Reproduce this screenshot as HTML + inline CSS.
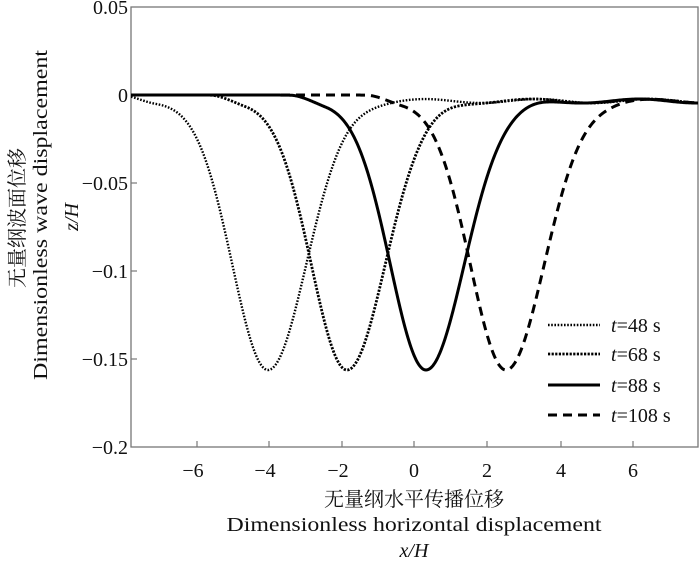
<!DOCTYPE html>
<html><head><meta charset="utf-8">
<style>
html,body{margin:0;padding:0;background:#fff;}
svg{display:block;}
text{font-family:"Liberation Serif","Noto Serif CJK SC",serif;fill:#111;}
.cjk{font-family:"Liberation Serif","Noto Serif CJK SC","Noto Sans CJK SC",serif;}
</style></head>
<body>
<svg id="s" width="700" height="561" viewBox="0 0 700 561" xmlns="http://www.w3.org/2000/svg">
<defs><clipPath id="c"><rect x="131" y="7" width="567" height="440"/></clipPath></defs>
<rect x="131" y="7" width="567" height="440" fill="none" stroke="#777" stroke-width="1.3"/>
<g stroke="#777" stroke-width="1.2">
<line x1="197" y1="447" x2="197" y2="441"/><line x1="269" y1="447" x2="269" y2="441"/>
<line x1="342" y1="447" x2="342" y2="441"/><line x1="414" y1="447" x2="414" y2="441"/>
<line x1="487" y1="447" x2="487" y2="441"/><line x1="561" y1="447" x2="561" y2="441"/>
<line x1="633" y1="447" x2="633" y2="441"/>
<line x1="131" y1="95" x2="137" y2="95"/><line x1="131" y1="183" x2="137" y2="183"/>
<line x1="131" y1="271" x2="137" y2="271"/><line x1="131" y1="359" x2="137" y2="359"/>
</g>
<g font-size="20" text-anchor="end">
<text x="128" y="14">0.05</text>
<text x="128" y="102">0</text>
<text x="128" y="190">−0.05</text>
<text x="128" y="278">−0.1</text>
<text x="128" y="366">−0.15</text>
<text x="128" y="454">−0.2</text>
</g>
<g font-size="20" text-anchor="middle">
<text x="193" y="477">−6</text><text x="265" y="477">−4</text><text x="338" y="477">−2</text>
<text x="414" y="477">0</text><text x="487" y="477">2</text><text x="561" y="477">4</text><text x="633" y="477">6</text>
</g>
<text class="cjk" x="414" y="506" font-size="20" text-anchor="middle">无量纲水平传播位移</text>
<text x="414" y="531" font-size="20" text-anchor="middle" textLength="375" lengthAdjust="spacingAndGlyphs">Dimensionless horizontal displacement</text>
<text x="414" y="557" font-size="20" text-anchor="middle" font-style="italic">x/H</text>
<g transform="translate(24,218) rotate(-90)"><text class="cjk" x="0" y="0" font-size="20" text-anchor="middle">无量纲波面位移</text></g>
<g transform="translate(47,215) rotate(-90)"><text x="0" y="0" font-size="20" text-anchor="middle" textLength="330" lengthAdjust="spacingAndGlyphs">Dimensionless wave displacement</text></g>
<g transform="translate(78,217) rotate(-90)"><text x="0" y="0" font-size="20" text-anchor="middle" font-style="italic">z/H</text></g>
<g id="curves" clip-path="url(#c)" fill="none" stroke="#000"></g>
<g stroke="#000" fill="none">
<line x1="548" y1="325" x2="600" y2="325" stroke-width="2.4" stroke-dasharray="1.6,1.6"/>
<line x1="548" y1="354" x2="600" y2="354" stroke-width="2.8" stroke-dasharray="2.2,1.4"/>
<line x1="548" y1="385" x2="600" y2="385" stroke-width="3"/>
<line x1="548" y1="415" x2="600" y2="415" stroke-width="3" stroke-dasharray="9,6"/>
</g>
<g font-size="20">
<text x="611" y="332"><tspan font-style="italic">t</tspan>=48 s</text>
<text x="611" y="361"><tspan font-style="italic">t</tspan>=68 s</text>
<text x="611" y="392"><tspan font-style="italic">t</tspan>=88 s</text>
<text x="611" y="422"><tspan font-style="italic">t</tspan>=108 s</text>
</g>
</svg>
<script>
(function(){
function ss(t){t=Math.max(0,Math.min(1,t));return t*t*(3-2*t);}
function path(c,ph,startShelf){
  var d="";
  for(var x=131;x<=699;x+=1){
    var dx=x-c, s=dx<0?42:45;
    var main=268*Math.exp(-0.693*(dx/s)*(dx/s));
    var shelf=7*ss((x-startShelf)/36)*(1-ss((x-(c+60))/60));
    var tailAmt=ss((x-(c+60))/60);
    var tail=tailAmt*(6+2*Math.sin((x+ph)/18));
    var y=95+main+shelf+tail;
    d+=(x==131?"M":"L")+x+","+y.toFixed(2);
  }
  return d;
}
var g=document.getElementById("curves");
var defs=[
 [268,0,120,"2.4","1.6,1.6"],
 [347,5,210,"2.8","2.2,1.4"],
 [426,11,290,"3",""],
 [506,3,366,"3","9,6"]
];
defs.forEach(function(a){
  var p=document.createElementNS("http://www.w3.org/2000/svg","path");
  p.setAttribute("d",path(a[0],a[1],a[2]));
  p.setAttribute("stroke-width",a[3]);
  if(a[4])p.setAttribute("stroke-dasharray",a[4]);
  g.appendChild(p);
});
})();
</script>
</body></html>
